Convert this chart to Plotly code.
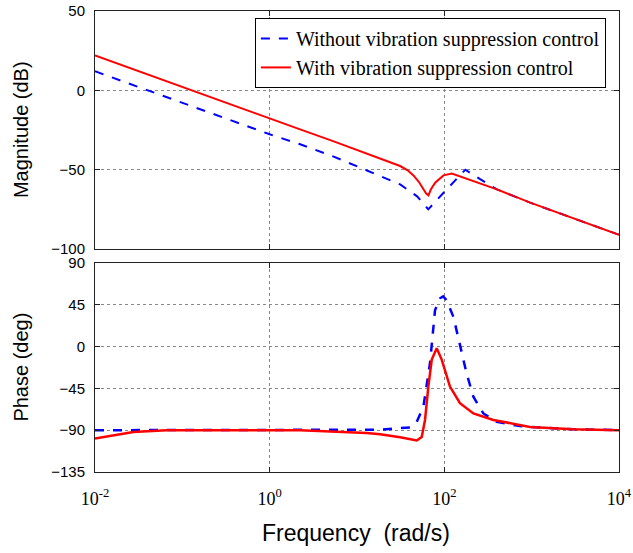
import plotly.graph_objects as go
from plotly.subplots import make_subplots

# ---- data ----
freq_mag_wo = [0.01, 0.1, 1, 2.23, 5.32, 13.0, 31.2, 48.8, 65.5, 100, 174, 257, 400, 960, 10000]
mag_wo = [12, -8, -27.7, -34, -41.6, -50.5, -59.3, -66.8, -75, -64, -50, -56, -62.4, -70.8, -91]

freq_mag_w = [0.01, 0.1, 1, 2.23, 5.32, 13.0, 18.4, 25.0, 31.2, 38.0, 44.3, 51.0, 57.7, 62, 65.8, 70, 78.5, 97.8, 122, 181, 400, 961, 10000]
mag_w = [22, 2, -17.7, -24.6, -32, -39.8, -42.6, -45.3, -47.7, -50.4, -53.6, -57.6, -62.4, -65, -66.2, -62.5, -58.2, -53.6, -52.5, -55.7, -62.4, -70.8, -91]

freq_ph_wo = [0.01, 1, 10, 18.4, 40.5, 48.3, 57.5, 68.5, 78.2, 89.3, 97, 106, 127, 151, 180, 215, 280, 398, 736, 961, 3000, 10000]
ph_wo = [-90, -90, -90, -89.5, -87, -81, -65, -18, 39, 52, 54, 50, 32, 3, -29, -54, -72, -81, -85.6, -86.6, -89, -90]

freq_ph_w = [0.01, 0.0275, 0.066, 1, 2.23, 12.9, 18.4, 31.2, 48.3, 55.1, 60.1, 65.6, 71.8, 81.8, 93.3, 116, 151, 215, 364, 957, 3000, 10000]
ph_w = [-99, -92, -90, -90, -90, -93, -94.4, -97.5, -101, -97.3, -79, -43, -14, -1.8, -14, -43, -61, -72, -79, -86.5, -89, -90]

name_wo = "Without vibration suppression control"
name_w = "With vibration suppression control"

x_tickvals = [0.01, 1, 100, 10000]
x_ticktext = ["10<sup>-2</sup>", "10<sup>0</sup>", "10<sup>2</sup>", "10<sup>4</sup>"]
mag_ticks = [-100, -50, 0, 50]
ph_ticks = [-135, -90, -45, 0, 45, 90]

BLUE = "#0000FF"
RED = "#FF0000"

TOP_DOM = [0.4837, 1.0]
BOT_DOM = [0.0, 0.4534]

fig = make_subplots(rows=2, cols=1, shared_xaxes=False, vertical_spacing=0.03)

fig.add_trace(go.Scatter(x=freq_mag_wo, y=mag_wo, mode="lines", name=name_wo,
                         line=dict(color=BLUE, width=2, dash="dash")), row=1, col=1)
fig.add_trace(go.Scatter(x=freq_mag_w, y=mag_w, mode="lines", name=name_w,
                         line=dict(color=RED, width=2)), row=1, col=1)
fig.add_trace(go.Scatter(x=freq_ph_wo, y=ph_wo, mode="lines", showlegend=False,
                         line=dict(color=BLUE, width=2.5, dash="dash")), row=2, col=1)
fig.add_trace(go.Scatter(x=freq_ph_w, y=ph_w, mode="lines", showlegend=False,
                         line=dict(color=RED, width=2.5)), row=2, col=1)

axis_common = dict(showline=True, linecolor="#222222", linewidth=1, mirror="ticks",
                   ticks="inside", ticklen=5, tickcolor="#222222",
                   showgrid=True, gridcolor="#888888", griddash="dot", gridwidth=1,
                   zeroline=False, automargin=False)

fig.update_xaxes(type="log", range=[-2, 4], tickvals=x_tickvals, ticktext=x_ticktext,
                 **axis_common)
fig.update_xaxes(showticklabels=False, domain=[0, 1], row=1, col=1)
fig.update_xaxes(showticklabels=True, domain=[0, 1], row=2, col=1,
                 tickfont=dict(family="Liberation Serif", size=18, color="black"),
                 ticklabelstandoff=10)

fig.update_yaxes(**axis_common)
fig.update_yaxes(range=[-100, 50], tickvals=mag_ticks, domain=TOP_DOM, row=1, col=1,
                 tickfont=dict(family="Liberation Sans", size=15, color="black"),
                 ticklabelstandoff=6)
fig.update_yaxes(range=[-135, 90], tickvals=ph_ticks, domain=BOT_DOM, row=2, col=1,
                 tickfont=dict(family="Liberation Sans", size=15, color="black"),
                 ticklabelstandoff=6)

annot_font = dict(family="Liberation Sans", size=20, color="black")
fig.update_layout(
    width=633, height=553,
    margin=dict(l=95, r=14, t=11, b=81),
    paper_bgcolor="white", plot_bgcolor="white",
    showlegend=True,
    legend=dict(x=0.975, y=0.985, xanchor="right", yanchor="top",
                bgcolor="white", bordercolor="black", borderwidth=1,
                font=dict(family="Liberation Serif", size=20, color="black")),
    annotations=[
        dict(text="Magnitude (dB)", textangle=-90, x=-0.141, y=sum(TOP_DOM) / 2, xref="paper",
             yref="paper", showarrow=False, font=annot_font, xanchor="center", yanchor="middle"),
        dict(text="Phase (deg)", textangle=-90, x=-0.141, y=sum(BOT_DOM) / 2, xref="paper",
             yref="paper", showarrow=False, font=annot_font, xanchor="center", yanchor="middle"),
        dict(text="Frequency&nbsp; (rad/s)", x=0.498, y=-0.132, xref="paper", yref="paper",
             showarrow=False, font=dict(family="Liberation Sans", size=23, color="black"),
             xanchor="center", yanchor="middle"),
    ],
)

fig.write_html("out.html")
